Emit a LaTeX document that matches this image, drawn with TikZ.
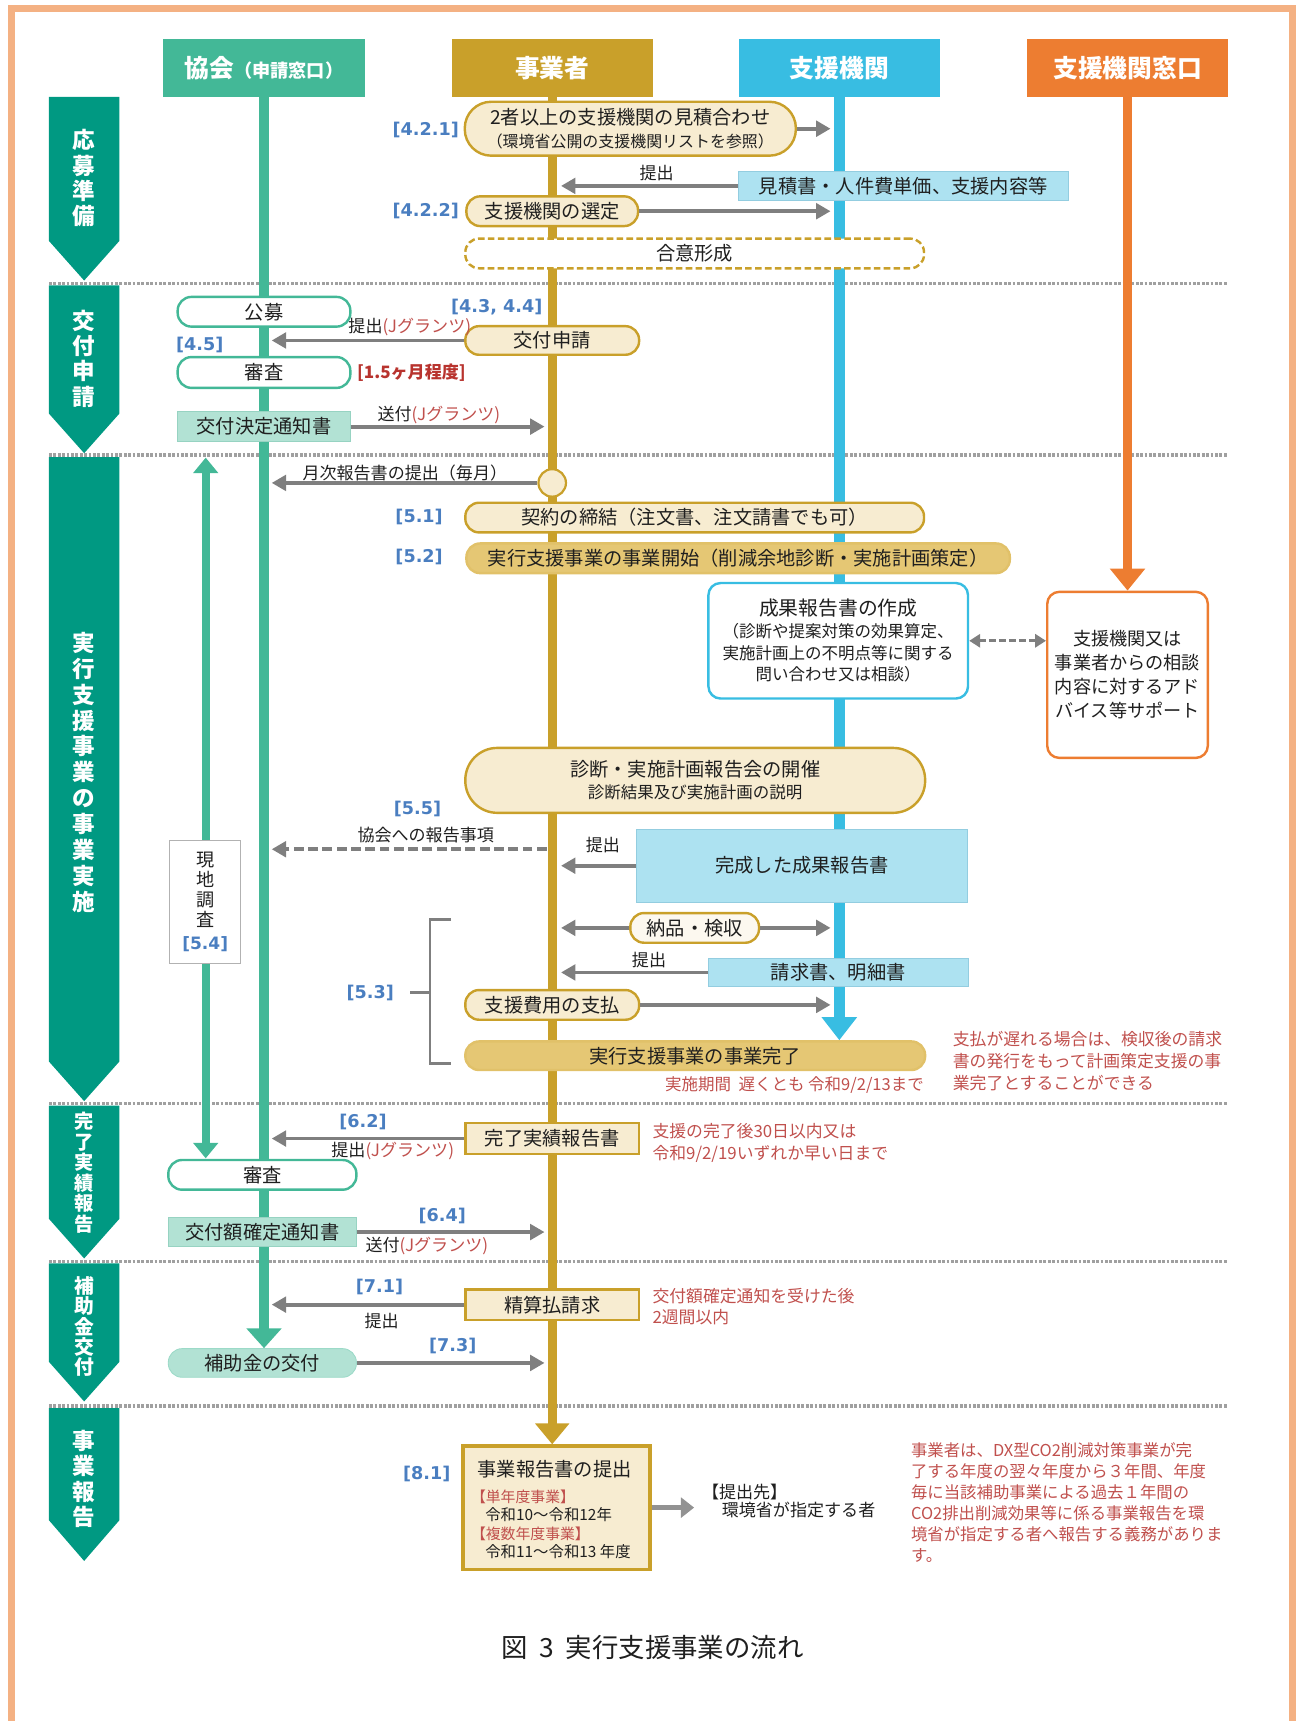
\documentclass[tikz,border=0pt]{standalone}
\usepackage{fontspec}
\setmainfont{Noto Sans CJK JP}
\newfontfamily\lblfont{DejaVu Sans}
\usetikzlibrary{arrows.meta,backgrounds}
\definecolor{cgreen}{HTML}{43B897}
\definecolor{cteal}{HTML}{009982}
\definecolor{cgold}{HTML}{C9A02A}
\definecolor{ccyan}{HTML}{38BDE2}
\definecolor{corange}{HTML}{ED7D31}
\definecolor{cream}{HTML}{F7ECD1}
\definecolor{goldfill}{HTML}{E5C774}
\definecolor{lcyan}{HTML}{ADE2F1}
\definecolor{lcyanb}{HTML}{93CDE0}
\definecolor{lgreen}{HTML}{B2E2D4}
\definecolor{lgreenb}{HTML}{97D3C2}
\definecolor{cblue}{HTML}{4A7EC0}
\definecolor{cred}{HTML}{C0504D}
\definecolor{cdred}{HTML}{B8332E}
\definecolor{cgray}{HTML}{7F7F7F}
\definecolor{sepgray}{HTML}{A0A0A0}
\definecolor{cborder}{HTML}{F4B183}
\definecolor{ctext}{HTML}{1F1F1F}
\newcommand\fsz[2]{\fontsize{#1}{#2}\selectfont}
\tikzset{
 hdr/.style={minimum width=183pt, minimum height=53pt, inner sep=0pt, text=white, font=\bfseries\fsz{22.5}{26}},
 pill/.style={draw=cgold, line width=2.2pt, fill=cream, rounded corners=12.5pt, inner sep=0pt, text=ctext, font=\fsz{17.5}{21}},
 gpill/.style={pill, draw=cgreen, fill=white},
 rbox/.style={draw=cgold, line width=2.4pt, fill=cream, inner sep=0pt, text=ctext, font=\fsz{17.5}{21}},
 cbox/.style={draw=lcyanb, line width=0.8pt, fill=lcyan, inner sep=0pt, text=ctext, font=\fsz{17.5}{21}},
 gbox/.style={draw=lgreenb, line width=0.8pt, fill=lgreen, inner sep=0pt, text=ctext, font=\fsz{17.5}{21}},
 lbl/.style={text=cblue, inner sep=0pt, font=\lblfont\bfseries\fsz{16}{18}},
 small/.style={text=ctext, inner sep=0pt, font=\fsz{15.5}{18}},
 note/.style={text=cred, inner sep=0pt, align=left, anchor=west, font=\fsz{15.3}{19.5}},
 garr/.style={draw=cgray, line width=3.5pt, -{Triangle[length=13pt,width=14pt]}},
 sepline/.style={draw=sepgray, line width=3pt, dash pattern=on 2.5pt off 1.5pt},
 btxt/.style={text=white, align=center, inner sep=0pt, font=\bfseries\fsz{20.5}{23}},
}
\begin{document}
\begin{tikzpicture}[x=1pt,y=-1pt]
\useasboundingbox (0,0) rectangle (1180,1564.5);
% ---------- headers
\node[hdr, fill=cgreen] (hA) at (240,61.5) {協会\fsz{16.5}{18}（申請窓口）};
\node[hdr, fill=cgold] (hB) at (502,61.5) {事業者};
\node[hdr, fill=ccyan] (hC) at (763,61.5) {支援機関};
\node[hdr, fill=corange] (hD) at (1025,61.5) {支援機関窓口};
% x targets of lifelines
\coordinate (xG) at (247,0);
\coordinate (xBl) at (495,0);
\coordinate (xBr) at (510,0);
\coordinate (xC) at (755,0);
% ---------- banners
\fill[cteal] (44.5,88) -- (108.5,88) -- (108.5,219) -- (76.5,255) -- (44.5,219) -- cycle;
\fill[cteal] (44.5,259.5) -- (108.5,259.5) -- (108.5,376) -- (76.5,412) -- (44.5,376) -- cycle;
\fill[cteal] (44.5,415.5) -- (108.5,415.5) -- (108.5,965) -- (76.5,1001) -- (44.5,965) -- cycle;
\fill[cteal] (44.5,1005) -- (108.5,1005) -- (108.5,1108) -- (76.5,1144) -- (44.5,1108) -- cycle;
\fill[cteal] (44.5,1148.5) -- (108.5,1148.5) -- (108.5,1238) -- (76.5,1274) -- (44.5,1238) -- cycle;
\fill[cteal] (44.5,1280) -- (108.5,1280) -- (108.5,1382) -- (76.5,1419) -- (44.5,1382) -- cycle;
\node[btxt] (b1) at (76.5,162) {応\\募\\準\\備};
\node[btxt] (b2) at (76.5,326) {交\\付\\申\\請};
\node[btxt, font=\bfseries\fsz{20.5}{23.5}] (b3) at (76.5,702) {実\\行\\支\\援\\事\\業\\の\\事\\業\\実\\施};
\node[btxt, font=\bfseries\fsz{17.5}{18.6}] (b4) at (76.5,1066) {完\\了\\実\\績\\報\\告};
\node[btxt, font=\bfseries\fsz{18}{18.5}] (b5) at (76.5,1206) {補\\助\\金\\交\\付};
\node[btxt] (b6) at (76.5,1344.5) {事\\業\\報\\告};
% ---------- section 1
\node[lbl] (l421) at (387,118) {[4.2.1]};
\node[pill, minimum width=301pt, minimum height=49pt, rounded corners=24pt, align=center] (p1) at (573,117) {2者以上の支援機関の見積合わせ\\{\fsz{14.5}{17}（環境省公開の支援機関リストを参照）}};
\draw[garr] (p1.east) -- (p1.east -| xC);
\node[cbox, minimum width=300pt, minimum height=26pt] (mitsu) at (821,169) {見積書・人件費単価、支援内容等};
\node[small] (t1) at (597,157.6) {提出};
\draw[garr] (mitsu.west) -- (mitsu.west -| xBr);
\node[lbl] (l422) at (387,192) {[4.2.2]};
\node[pill, minimum width=156pt, minimum height=27pt] (p2) at (502,192) {支援機関の選定};
\draw[garr] (p2.east) -- (p2.east -| xC);
\node[pill, fill=white, dashed, dash pattern=on 6pt off 3pt, minimum width=417pt, minimum height=27pt] (goui) at (631.5,230.4) {合意形成};
% ---------- section 2
\node[gpill, minimum width=157pt, minimum height=27pt] (koubo) at (240,283.4) {公募};
\node[lbl] (l434) at (451.5,279) {[4.3, 4.4]};
\node[pill, minimum width=158pt, minimum height=26pt] (koufu) at (502,309.5) {交付申請};
\node[small] (t2) at (372.5,297) {提出{\color{cred}(Jグランツ)}};
\draw[garr] (koufu.west) -- (koufu.west -| xG);
\node[lbl] (l45) at (181.5,313.6) {[4.5]};
\node[gpill, minimum width=157pt, minimum height=28pt] (shinsa) at (240,338.6) {審査};
\node[inner sep=0pt, text=cdred, font=\bfseries\fsz{15.5}{18}] (l15) at (374,339) {[1.5ヶ月程度]};
\node[gbox, minimum width=157pt, minimum height=27pt] (kettei) at (240,387.8) {交付決定通知書};
\node[small] (t3) at (399,377.3) {送付{\color{cred}(Jグランツ)}};
\draw[garr] (kettei.east) -- (kettei.east -| xBl);
% ---------- section 3
\node[circle, draw=cgold, fill=cream, line width=2pt, minimum size=25pt, inner sep=0pt] (circ) at (502,439) {};
\node[small] (t4) at (368,429.7) {月次報告書の提出（毎月）};
\draw[garr] (circ.west) -- (circ.west -| xG);
\node[lbl] (l51) at (381,470) {[5.1]};
\node[pill, minimum width=417pt, minimum height=27pt] (keiyaku) at (631.5,470.5) {契約の締結（注文書、注文請書でも可）};
\node[lbl] (l52) at (381,506.5) {[5.2]};
\node[pill, fill=goldfill, draw=goldfill!85!cgold, minimum width=494pt, minimum height=27pt] (kaishi) at (671,507.5) {実行支援事業の事業開始（削減余地診断・実施計画策定）};
\node[draw=ccyan, line width=2.2pt, fill=white, rounded corners=11pt, minimum width=236pt, minimum height=105pt, inner sep=0pt, align=center, text=ctext, font=\fsz{15}{19.7}] (seika) at (762,582.5) {{\fsz{18}{21}成果報告書の作成}\\（診断や提案対策の効果算定、\\実施計画上の不明点等に関する\\問い合わせ又は相談）};
\node[draw=corange, line width=2.2pt, fill=white, rounded corners=11pt, minimum width=146pt, minimum height=151pt, inner sep=0pt, align=center, text=ctext, font=\fsz{16.5}{21.7}] (support) at (1025,613.5) {支援機関又は\\事業者からの相談\\内容に対するアド\\バイス等サポート};
\draw[draw=cgray, line width=3pt, dash pattern=on 6pt off 3pt, {Triangle[length=10pt,width=12pt]}-{Triangle[length=10pt,width=12pt]}] (seika.east) -- (seika.east -| support.west);
\node[pill, minimum width=418pt, minimum height=59pt, rounded corners=29pt, align=center, font=\fsz{15}{20}] (kaigi) at (632,709.4) {{\fsz{17.5}{21}診断・実施計画報告会の開催}\\診断結果及び実施計画の説明};
\node[lbl] (l55) at (379.5,735.5) {[5.5]};
\node[small] (t5) at (387,759) {協会への報告事項};
\coordinate (d55) at (497,772);
\draw[garr, dash pattern=on 9pt off 4pt] (d55) -- (d55 -| xG);
\node[small] (t6) at (548,768) {提出};
\node[cbox, minimum width=300.5pt, minimum height=66pt] (kansei) at (729,787) {完成した成果報告書};
\draw[garr] (kansei.west) -- (kansei.west -| xBr);
\draw[cgray, line width=2.5pt] (410,836) -- (391,836) -- (391,967) -- (410,967);
\draw[cgray, line width=2.5pt] (373,902) -- (391,902);
\node[lbl] (l53) at (336.6,903) {[5.3]};
\node[pill, fill=cream!35, minimum width=117pt, minimum height=27pt] (nouhin) at (631.5,843.5) {納品・検収};
\draw[garr] (nouhin.west) -- (nouhin.west -| xBr);
\draw[garr] (nouhin.east) -- (nouhin.east -| xC);
\node[small] (t7) at (590,872.7) {提出};
\node[cbox, minimum width=236pt, minimum height=26pt] (seikyu) at (762,884) {請求書、明細書};
\draw[garr] (seikyu.west) -- (seikyu.west -| xBr);
\node[pill, minimum width=158pt, minimum height=27pt] (shiharai) at (502,913.5) {支援費用の支払};
\draw[garr] (shiharai.east) -- (shiharai.east -| xC);
\node[pill, fill=goldfill, draw=goldfill!85!cgold, minimum width=418pt, minimum height=26pt] (kanryo) at (632,959.7) {実行支援事業の事業完了};
\node[note, anchor=east, font=\fsz{15}{18}] (n1) at (840,986.5) {実施期間\ \ 遅くとも 令和9/2/13まで};
\node[note, font=\fsz{15.3}{20}] (n2) at (866,965) {支払が遅れる場合は、検収後の請求\\書の発行をもって計画策定支援の事\\業完了とすることができる};
% ---------- section 4
\node[lbl] (l62) at (330,1020) {[6.2]};
\node[rbox, minimum width=158pt, minimum height=28pt] (jisseki) at (502,1035) {完了実績報告書};
\draw[garr] (jisseki.west) -- (jisseki.west -| xG);
\node[small] (t8) at (357,1046.5) {提出{\color{cred}(Jグランツ)}};
\node[note] (n3) at (593,1039) {支援の完了後30日以内又は\\令和9/2/19いずれか早い日まで};
\node[gpill, minimum width=171pt, minimum height=27pt] (shinsa2) at (238.5,1068) {審査};
\node[gbox, minimum width=171pt, minimum height=27pt] (kakutei) at (238.5,1120) {交付額確定通知書};
\draw[garr] (kakutei.east) -- (kakutei.east -| xBl);
\node[lbl] (l64) at (402,1105.5) {[6.4]};
\node[small] (t9) at (388,1132.5) {送付{\color{cred}(Jグランツ)}};
% ---------- section 5
\node[lbl] (l71) at (345,1169.7) {[7.1]};
\node[rbox, minimum width=158pt, minimum height=28pt] (seisan) at (502,1186) {精算払請求};
\draw[garr] (seisan.west) -- (seisan.west -| xG);
\node[small] (t10) at (347,1200.5) {提出};
\node[note] (n4) at (593,1188) {交付額確定通知を受けた後\\2週間以内};
\node[gbox, draw=lgreen!80!cgreen, rounded corners=12.5pt, minimum width=171pt, minimum height=26pt] (hojokin) at (238.5,1239) {補助金の交付};
\draw[garr] (hojokin.east) -- (hojokin.east -| xBl);
\node[lbl] (l73) at (411.6,1223.6) {[7.3]};
% ---------- section 6
\node[lbl] (l81) at (388,1339.7) {[8.1]};
\node[rbox, line width=3pt, minimum width=170pt, minimum height=112pt] (report) at (506,1370.5) {};
\node[anchor=west, inner sep=0pt, text=ctext, font=\fsz{17.5}{20}] (r1) at (434,1336) {事業報告書の提出};
\node[anchor=west, inner sep=0pt, text=cred, font=\fsz{13.5}{16}] (r2) at (428,1360.6) {【単年度事業】};
\node[anchor=west, inner sep=0pt, text=ctext, font=\fsz{14}{16}] (r3) at (441,1377) {令和10～令和12年};
\node[anchor=west, inner sep=0pt, text=cred, font=\fsz{13.5}{16}] (r4) at (428,1394) {【複数年度事業】};
\node[anchor=west, inner sep=0pt, text=ctext, font=\fsz{14}{16}] (r5) at (441,1410.6) {令和11～令和13 年度};
\coordinate (rend) at (631,0);
\draw[draw=cgray!85, line width=5pt, -{Triangle[length=12pt,width=18pt]}] (report.east) -- (report.east -| rend);
\node[anchor=west, inner sep=0pt, text=ctext, font=\fsz{15.5}{18}] (dest1) at (638,1356) {【提出先】};
\node[anchor=west, inner sep=0pt, text=ctext, font=\fsz{15.5}{18}] (dest2) at (656,1373) {環境省が指定する者};
\node[note, font=\fsz{14.9}{19.2}] (n5) at (828,1366) {事業者は、DX型CO2削減対策事業が完\\了する年度の翌々年度から３年間、年度\\毎に当該補助事業による過去１年間の\\CO2排出削減効果等に係る事業報告を環\\境省が指定する者へ報告する義務がありま\\す。};
% ---------- 5.4 box
\node[draw=black!30, line width=0.8pt, fill=white, minimum width=65pt, minimum height=112pt, inner sep=0pt, align=center, text=ctext, font=\fsz{16.5}{18}] (genchi) at (186.5,820) {現\\地\\調\\査\\[3pt]{\lblfont\bfseries\color{cblue}\fsz{15.5}{17}[5.4]}};
\coordinate (g54t) at (187,416);
\coordinate (g54b) at (187,1053);
% ---------- caption
\node[inner sep=0pt, text=ctext, font=\fsz{24}{28}] (cap) at (593,1498) {図\ \ 3\ \ 実行支援事業の流れ};
% ---------- background layer
\begin{scope}[on background layer]
\draw[cborder, line width=6.5pt] (10.5,1575) -- (10.5,7.6) -- (1175,7.6) -- (1175,1575);
\foreach \yy in {257.6,413.6,1003,1146.5,1278} \draw[sepline] (44.5,\yy) -- (1116,\yy);
\draw[cgreen, line width=7pt, {Triangle[length=14pt,width=22pt]}-{Triangle[length=14pt,width=22pt]}] (g54t) -- (g54b);
\draw[cgreen, line width=9pt, -{Triangle[length=18pt,width=31pt]}] (hA.south) -- (hA.south |- hojokin.north);
\draw[cgold, line width=8.5pt, -{Triangle[length=19pt,width=30pt]}] (hB.south) -- (hB.south |- report.north);
\draw[ccyan, line width=10pt, -{Triangle[length=21pt,width=31pt]}] (hC.south) -- (hC.south |- kanryo.north);
\draw[corange, line width=9pt, -{Triangle[length=20pt,width=31pt]}] (hD.south) -- (hD.south |- support.north);
\end{scope}
\end{tikzpicture}
\end{document}
